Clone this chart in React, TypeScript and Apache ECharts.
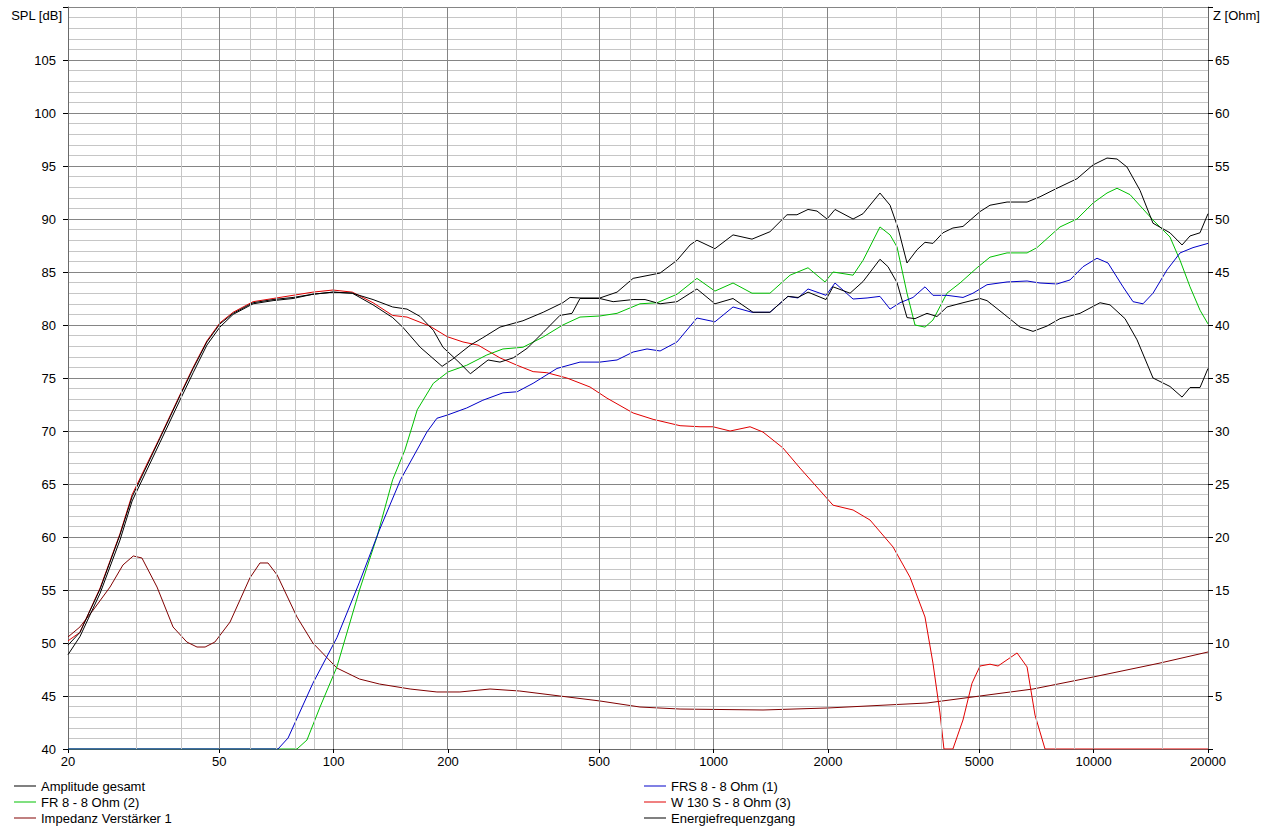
import React, { useEffect, useRef } from 'react';
import * as echarts from 'echarts';

// ---- axis ticks / gridline frequencies ----
const FREQ_LABELS = [20, 50, 100, 200, 500, 1000, 2000, 5000, 10000, 20000];
const MAJOR_GRID_FREQS = [50, 100, 200, 500, 1000, 2000, 5000, 10000];
const MINOR_GRID_FREQS = [30, 40, 60, 70, 80, 90, 150, 300, 400, 600, 700, 800, 900, 1500, 3000, 4000, 6000, 7000, 8000, 9000, 15000];

// ---- Amplitude gesamt (SPL dB) ----
const ampFreq = [20, 21.5, 24.3, 27.4, 29.5, 34.9, 39.4, 42.7, 46.4, 50.2, 54.4, 61.4, 69.3, 78.2, 88.2, 99.6, 112, 127, 143, 156, 169, 183, 194, 215, 229, 255, 274, 297, 323, 356, 394, 424, 445, 502, 544, 614, 660, 723, 801, 904, 1008, 1125, 1270, 1407, 1569, 1668, 1772, 1976, 2062, 2286, 2473, 2740, 2877, 3039, 3228, 3388, 3644, 3871, 4112, 4532, 5024, 5241, 5776, 6404, 6928, 7540, 8158, 9210, 10396, 11046, 12096, 13010, 14334, 15886, 17090, 17936, 19054, 20000];
const ampDb = [48.9, 50.6, 54.7, 59.7, 63.4, 68.9, 72.9, 75.5, 78.1, 79.8, 81.0, 82.0, 82.3, 82.5, 82.9, 83.1, 83.0, 82.4, 81.7, 81.5, 80.8, 79.5, 77.9, 76.4, 75.4, 76.7, 76.5, 76.9, 77.8, 79.3, 80.9, 81.1, 82.5, 82.5, 82.2, 82.4, 82.4, 82.0, 82.2, 83.4, 82.0, 82.5, 81.2, 81.2, 82.7, 82.6, 83.1, 82.4, 83.6, 83.0, 84.1, 86.2, 85.5, 84.0, 80.7, 80.6, 81.1, 80.8, 81.7, 82.1, 82.5, 82.3, 81.1, 79.8, 79.4, 79.9, 80.6, 81.1, 82.1, 81.9, 80.6, 78.6, 75.0, 74.2, 73.2, 74.1, 74.1, 75.9];

// ---- Energiefrequenzgang (SPL dB) ----
const energyFreq = [20, 21.5, 24.3, 27.4, 29.5, 34.9, 39.4, 42.7, 46.4, 50.2, 54.4, 61.4, 69.3, 78.2, 88.2, 99.6, 112, 127, 143, 152, 169, 193, 206, 229, 247, 274, 315, 356, 401, 419, 445, 502, 557, 614, 723, 801, 867, 904, 1008, 1125, 1262, 1407, 1560, 1657, 1772, 1871, 1988, 2087, 2328, 2473, 2740, 2913, 3057, 3228, 3430, 3600, 3778, 4014, 4263, 4532, 5024, 5338, 5918, 6682, 7228, 8010, 9044, 9964, 10846, 11524, 12242, 13248, 14334, 15886, 17090, 17936, 19054, 20000];
const energyDb = [49.8, 51.0, 55.1, 60.2, 63.8, 69.3, 73.3, 75.9, 78.4, 80.1, 81.1, 82.1, 82.4, 82.6, 82.9, 83.1, 83.0, 81.9, 80.7, 79.8, 77.9, 76.1, 76.8, 78.1, 78.8, 79.8, 80.4, 81.2, 82.1, 82.6, 82.55, 82.55, 83.1, 84.4, 84.9, 86.1, 87.55, 88.0, 87.2, 88.5, 88.1, 88.8, 90.4, 90.4, 90.9, 90.75, 90.0, 90.9, 90.0, 90.5, 92.45, 91.3, 89.15, 85.85, 87.1, 87.8, 87.7, 88.7, 89.15, 89.3, 90.7, 91.3, 91.6, 91.6, 92.1, 92.9, 93.8, 95.1, 95.75, 95.66, 94.9, 92.7, 89.6, 88.7, 87.55, 88.4, 88.7, 90.5];

// ---- W 130 S - 8 Ohm (3) (SPL dB) ----
const wooferFreq = [20, 21.5, 24.3, 27.4, 29.5, 34.9, 39.4, 42.7, 46.4, 50.2, 54.4, 61.4, 69.3, 78.2, 88.2, 99.6, 112, 127, 143, 156, 179, 199, 219, 240, 274, 304, 335, 364, 411, 473, 524, 614, 693, 816, 921, 996, 1105, 1247, 1349, 1522, 1688, 2062, 2328, 2580, 2966, 3288, 3600, 3778, 3942, 4038, 4263, 4532, 4786, 5024, 5338, 5604, 6289, 6682, 7012, 7450, 20000];
const wooferDb = [50.2, 51.0, 55.2, 60.3, 64.0, 69.4, 73.4, 76.0, 78.5, 80.2, 81.2, 82.2, 82.5, 82.8, 83.1, 83.3, 83.1, 82.1, 80.9, 80.75, 79.9, 78.9, 78.4, 78.1, 76.9, 76.2, 75.6, 75.5, 75.0, 74.15, 73.1, 71.7, 71.1, 70.5, 70.4, 70.4, 70.0, 70.4, 69.9, 68.4, 66.5, 63.0, 62.55, 61.6, 59.06, 56.2, 52.45, 48.1, 43.4, 40, 40, 42.74, 46.2, 47.83, 48.0, 47.83, 49.06, 47.74, 43.2, 40, 40];

// ---- FR 8 - 8 Ohm (2) (SPL dB) ----
const frFreq = [20, 80.1, 85.1, 92.1, 102, 117, 130, 143, 154, 162, 166, 183, 200, 224, 253, 279, 315, 356, 401, 445, 502, 557, 640, 710, 801, 904, 1008, 1125, 1262, 1407, 1589, 1772, 1964, 2062, 2328, 2473, 2740, 2913, 3039, 3228, 3388, 3600, 3778, 4112, 4450, 4934, 5338, 5918, 6682, 7096, 8158, 9044, 9964, 10846, 11524, 12468, 14334, 15886, 16884, 17936, 19054, 20000];
const frDb = [40, 40, 40.85, 43.96, 47.74, 55.0, 60.0, 65.4, 68.2, 70.75, 72.0, 74.5, 75.57, 76.2, 77.17, 77.74, 77.9, 78.87, 80.0, 80.75, 80.85, 81.1, 82.0, 82.1, 82.9, 84.4, 83.2, 83.96, 83.0, 83.0, 84.7, 85.4, 84.06, 85.0, 84.7, 86.1, 89.25, 88.5, 87.36, 83.0, 80.0, 79.8, 80.47, 83.0, 83.96, 85.4, 86.4, 86.8, 86.8, 87.3, 89.25, 90.0, 91.5, 92.45, 92.9, 92.3, 89.9, 88.3, 86.1, 83.6, 81.4, 80.1];

// ---- FRS 8 - 8 Ohm (1) (SPL dB) ----
const frsFreq = [20, 71.4, 75.9, 88.2, 102, 117, 132, 150, 176, 187, 199, 224, 247, 279, 304, 335, 387, 445, 502, 557, 614, 668, 723, 801, 904, 1008, 1125, 1262, 1407, 1569, 1668, 1772, 1976, 2087, 2328, 2534, 2740, 2913, 3094, 3348, 3600, 3778, 4112, 4532, 4816, 5241, 5918, 6682, 7228, 8010, 8668, 9380, 10208, 10912, 11950, 12698, 13490, 14334, 15602, 16884, 18264, 20000];
const frsDb = [40, 40, 41.04, 46.2, 50.5, 55.75, 60.66, 65.4, 69.9, 71.2, 71.5, 72.17, 72.9, 73.6, 73.7, 74.5, 75.9, 76.5, 76.5, 76.7, 77.45, 77.74, 77.55, 78.4, 80.66, 80.3, 81.7, 81.2, 81.2, 82.7, 82.55, 83.4, 82.8, 83.96, 82.45, 82.55, 82.7, 81.5, 82.1, 82.6, 83.6, 82.8, 82.8, 82.6, 83.0, 83.8, 84.06, 84.15, 83.96, 83.87, 84.25, 85.5, 86.3, 85.85, 83.6, 82.2, 82.0, 83.0, 85.2, 86.8, 87.3, 87.7];

// ---- Impedanz Verstärker 1 (Ohm) ----
const impFreq = [20, 21.5, 23.3, 25.8, 27.9, 29.7, 31.3, 34.3, 37.8, 41.1, 43.7, 45.9, 48.7, 53.4, 60.2, 64.0, 67.2, 71.0, 80.1, 88.2, 102, 117, 132, 159, 187, 215, 258, 309, 394, 502, 640, 816, 1349, 2000, 3644, 5024, 6928, 9964, 14954, 20000];
const impOhm = [10.57, 11.51, 13.11, 15.28, 17.36, 18.21, 18.02, 15.28, 11.51, 10.09, 9.62, 9.62, 10.09, 11.98, 16.13, 17.55, 17.55, 16.42, 12.45, 10.0, 7.64, 6.6, 6.13, 5.66, 5.38, 5.38, 5.66, 5.47, 5.0, 4.53, 3.96, 3.77, 3.68, 3.87, 4.34, 5.0, 5.66, 6.79, 8.11, 9.15];

const LEGEND_LEFT = ['Amplitude gesamt', 'FR 8 - 8 Ohm (2)', 'Impedanz Verstärker 1'];
const LEGEND_RIGHT = ['FRS 8 - 8 Ohm (1)', 'W 130 S - 8 Ohm (3)', 'Energiefrequenzgang'];

const FONT = '"Liberation Sans", Arial, Helvetica, sans-serif';
const MAJOR_COLOR = '#858585';
const MINOR_COLOR = '#c6c6c6';
const AXIS_COLOR = '#6a6a6a';

const lg = (f: number) => Math.log10(f);
const pts = (f: number[], v: number[]) => f.map((x, i) => [lg(x), v[i]]);

function lineSeries(name: string, color: string, f: number[], v: number[], yAxisIndex = 0) {
  return {
    name,
    type: 'line',
    data: pts(f, v),
    yAxisIndex,
    symbol: 'none',
    showSymbol: false,
    smooth: false,
    silent: true,
    lineStyle: { color, width: 1 },
    itemStyle: { color },
    emphasis: { disabled: true },
    z: 3,
  };
}

export default function App() {
  const ref = useRef<HTMLDivElement>(null);

  useEffect(() => {
    document.body.style.margin = '0';
    document.body.style.background = '#ffffff';
    if (!ref.current) return;
    const chart = echarts.init(ref.current, null, { renderer: 'svg' });

    const gridLines = [
      ...MINOR_GRID_FREQS.map((f) => ({ xAxis: lg(f), lineStyle: { color: MINOR_COLOR, width: 1, type: 'solid' } })),
      ...MAJOR_GRID_FREQS.map((f) => ({ xAxis: lg(f), lineStyle: { color: MAJOR_COLOR, width: 1, type: 'solid' } })),
    ];

    const legendCommon = {
      orient: 'vertical',
      top: 778,
      icon: 'rect',
      itemWidth: 22,
      itemHeight: 1,
      itemGap: 0,
      selectedMode: false,
      padding: 0,
      textStyle: { fontFamily: FONT, fontSize: 13, color: '#000', lineHeight: 16 },
    };

    const option: any = {
      animation: false,
      backgroundColor: '#ffffff',
      grid: { left: 68, right: 70, top: 7, bottom: 81, containLabel: false },
      legend: [
        { ...legendCommon, left: 14, data: LEGEND_LEFT },
        { ...legendCommon, left: 644, data: LEGEND_RIGHT },
      ],
      xAxis: {
        type: 'value',
        min: lg(20),
        max: lg(20000),
        axisLine: { show: true, onZero: false, lineStyle: { color: AXIS_COLOR } },
        axisTick: { show: true, length: 4, customValues: FREQ_LABELS.map(lg), lineStyle: { color: '#000' } },
        splitLine: { show: false },
        axisLabel: {
          customValues: FREQ_LABELS.map(lg),
          formatter: (v: number) => String(Math.round(Math.pow(10, v))),
          fontFamily: FONT,
          fontSize: 13,
          color: '#000',
          margin: 6,
        },
      },
      yAxis: [
        {
          type: 'value',
          min: 40,
          max: 110,
          interval: 5,
          position: 'left',
          axisLine: { show: true, lineStyle: { color: AXIS_COLOR } },
          axisTick: { show: true, length: 5, lineStyle: { color: '#000' } },
          axisLabel: {
            formatter: (v: number) => (v === 110 ? '' : String(v)),
            fontFamily: FONT,
            fontSize: 13,
            color: '#000',
            margin: 12,
          },
          splitLine: { show: true, lineStyle: { color: MAJOR_COLOR, width: 1 } },
          minorTick: { show: false, splitNumber: 5 },
          minorSplitLine: { show: true, lineStyle: { color: MINOR_COLOR, width: 1 } },
        },
        {
          type: 'value',
          min: 0,
          max: 70,
          interval: 5,
          position: 'right',
          axisLine: { show: true, lineStyle: { color: AXIS_COLOR } },
          axisTick: { show: true, length: 5, lineStyle: { color: '#000' } },
          axisLabel: {
            formatter: (v: number) => (v === 0 || v === 70 ? '' : String(v)),
            fontFamily: FONT,
            fontSize: 13,
            color: '#000',
            margin: 7,
          },
          splitLine: { show: false },
        },
      ],
      graphic: [
        {
          type: 'text',
          x: 62,
          y: 15,
          style: { text: 'SPL [dB]', align: 'right', verticalAlign: 'middle', fontFamily: FONT, fontSize: 13, fill: '#000' },
        },
        {
          type: 'text',
          x: 1213,
          y: 15,
          style: { text: 'Z [Ohm]', align: 'left', verticalAlign: 'middle', fontFamily: FONT, fontSize: 13, fill: '#000' },
        },
      ],
      series: [
        {
          name: '__grid',
          type: 'line',
          data: [[lg(20), 40]],
          symbol: 'none',
          silent: true,
          lineStyle: { opacity: 0 },
          z: 1,
          markLine: {
            silent: true,
            symbol: ['none', 'none'],
            label: { show: false },
            emphasis: { disabled: true },
            data: gridLines,
          },
        },
        lineSeries('Impedanz Verstärker 1', '#800000', impFreq, impOhm, 1),
        lineSeries('W 130 S - 8 Ohm (3)', '#e00000', wooferFreq, wooferDb),
        lineSeries('FR 8 - 8 Ohm (2)', '#00c000', frFreq, frDb),
        lineSeries('FRS 8 - 8 Ohm (1)', '#0000c8', frsFreq, frsDb),
        lineSeries('Amplitude gesamt', '#000000', ampFreq, ampDb),
        lineSeries('Energiefrequenzgang', '#000000', energyFreq, energyDb),
      ],
    };

    chart.setOption(option);
    return () => chart.dispose();
  }, []);

  return <div ref={ref} style={{ width: 1278, height: 830 }} />;
}
